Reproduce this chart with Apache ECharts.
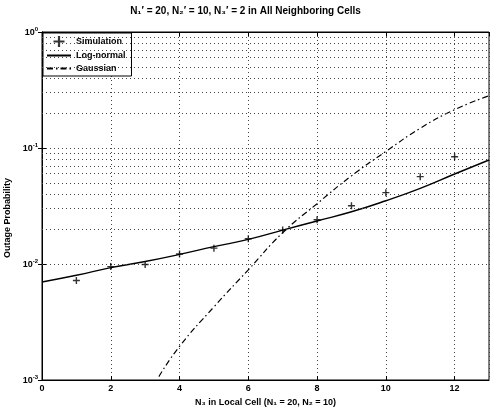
<style>
  html, body { margin: 0; padding: 0; overflow: hidden; background: #fff; }
</style>
<script src="https://cdn.jsdelivr.net/npm/echarts@6.0.0/dist/echarts.min.js"></script>

<div id="chart" style="width: 491px; height: 407px;"></div>

<script>
  // values
  const simX = [1, 2, 3, 4, 5, 6, 7, 8, 9, 10, 11, 12];
  const simulation = [0.0072, 0.0095, 0.0099, 0.0122, 0.0137, 0.0165, 0.0196, 0.0241, 0.0318, 0.0412, 0.0566, 0.0841];

  const logNormalX = [0, 1, 2, 3, 4, 5, 6, 7, 8, 9, 10, 11, 12, 13];
  const logNormal = [0.0070, 0.0080, 0.0093, 0.0105, 0.0121, 0.0141, 0.0163, 0.0196, 0.0235, 0.0282, 0.0351, 0.0449, 0.0597, 0.0788];

  const gaussX = [3.4, 4, 5, 6, 7, 8, 9, 10, 11, 12, 13];
  const gaussian = [0.00107, 0.00195, 0.00427, 0.00891, 0.0186, 0.0331, 0.0575, 0.0933, 0.148, 0.214, 0.282];

  const minorGrid = [0.002, 0.003, 0.004, 0.005, 0.006, 0.007, 0.008, 0.009,
    0.02, 0.03, 0.04, 0.05, 0.06, 0.07, 0.08, 0.09,
    0.2, 0.3, 0.4, 0.5, 0.6, 0.7, 0.8, 0.9];

  const pair = (xs, ys) => xs.map((x, i) => [x, ys[i]]);

  const font = 'Liberation Sans';
  const dotted = { color: '#444', type: [1, 3], width: 1 };

  const chart = echarts.init(document.getElementById('chart'), null, { renderer: 'canvas' });

  const option = {
    backgroundColor: '#fff',
    animation: false,
    textStyle: { fontFamily: font, fontWeight: 'bold', color: '#000' },
    title: {
      text: 'N₁′ = 20, N₂′ = 10, N₃′ = 2 in All Neighboring Cells',
      left: 'center',
      top: 4,
      padding: 2,
      textStyle: { fontSize: 10, fontWeight: 'bold', fontFamily: font, color: '#000' }
    },
    legend: {
      orient: 'vertical',
      left: 43,
      top: 33,
      padding: [3, 6, 3, 3],
      itemGap: 4,
      itemWidth: 24,
      itemHeight: 11,
      borderColor: '#000',
      borderWidth: 1,
      backgroundColor: '#fff',
      textStyle: { fontSize: 9, fontWeight: 'bold', fontFamily: font, color: '#000' },
      data: [
        'Simulation',
        { name: 'Log-normal', itemStyle: { opacity: 0 } },
        { name: 'Gaussian', itemStyle: { opacity: 0 } }
      ]
    },
    grid: {
      left: 42, right: 2, top: 32, bottom: 27,
      outerBoundsMode: 'none',
      containLabel: false,
      show: true, borderColor: '#000', borderWidth: 1
    },
    xAxis: [{
      type: 'value',
      min: 0, max: 13, interval: 2,
      name: 'N₃ in Local Cell (N₁ = 20, N₂ = 10)',
      nameLocation: 'middle',
      nameGap: 15,
      nameTextStyle: { fontSize: 9, fontWeight: 'bold', color: '#000' },
      axisLine: { lineStyle: { color: '#000' } },
      axisTick: { inside: true, length: 4, lineStyle: { color: '#000' } },
      axisLabel: { fontSize: 9, fontWeight: 'bold', color: '#000', margin: 4, showMaxLabel: false },
      splitLine: { show: true, lineStyle: dotted }
    }, {
      type: 'value',
      position: 'top',
      min: 0, max: 13, interval: 2,
      axisLine: { lineStyle: { color: '#000' } },
      axisTick: { inside: true, length: 4, lineStyle: { color: '#000' } },
      axisLabel: { show: false },
      splitLine: { show: false }
    }],
    yAxis: [{
      type: 'log',
      logBase: 10,
      min: 0.001, max: 1,
      name: 'Outage Probability',
      nameLocation: 'middle',
      nameGap: 26,
      nameTextStyle: { fontSize: 9, fontWeight: 'bold', color: '#000', padding: [0, 0, 0, -24] },
      axisLine: { lineStyle: { color: '#000' } },
      axisTick: { inside: true, length: 4, lineStyle: { color: '#000' } },
      axisLabel: {
        margin: 4,
        formatter: (v) => '{b|10}{s|' + Math.round(Math.log10(v)) + '}',
        rich: {
          b: { fontSize: 9, fontWeight: 'bold', color: '#000', lineHeight: 11, verticalAlign: 'bottom' },
          s: { fontSize: 6, fontWeight: 'bold', color: '#000', lineHeight: 11, verticalAlign: 'top' }
        }
      },
      splitLine: { show: true, lineStyle: dotted }
    }, {
      type: 'log',
      logBase: 10,
      min: 0.001, max: 1,
      position: 'right',
      axisLine: { lineStyle: { color: '#000' } },
      axisTick: { inside: true, length: 4, lineStyle: { color: '#000' } },
      axisLabel: { show: false },
      splitLine: { show: false }
    }],
    series: [
      {
        name: 'Simulation',
        type: 'scatter',
        data: pair(simX, simulation),
        symbol: 'path://M4,0H6V4H10V6H6V10H4V6H0V4H4Z',
        symbolSize: 7,
        itemStyle: { color: '#000' },
        z: 5
      },
      {
        name: 'Log-normal',
        type: 'line',
        data: pair(logNormalX, logNormal),
        smooth: true,
        showSymbol: false,
        symbol: 'none',
        lineStyle: { color: '#000', width: 1.4 },
        itemStyle: { color: '#000' },
        markLine: {
          silent: true,
          symbol: 'none',
          label: { show: false },
          lineStyle: dotted,
          data: minorGrid.map((v) => ({ yAxis: v }))
        }
      },
      {
        name: 'Gaussian',
        type: 'line',
        data: pair(gaussX, gaussian),
        smooth: true,
        showSymbol: false,
        symbol: 'none',
        lineStyle: { color: '#000', width: 1.2, type: [6, 3, 1.5, 3] },
        itemStyle: { color: '#000' }
      }
    ]
  };

  chart.setOption(option);
</script>
